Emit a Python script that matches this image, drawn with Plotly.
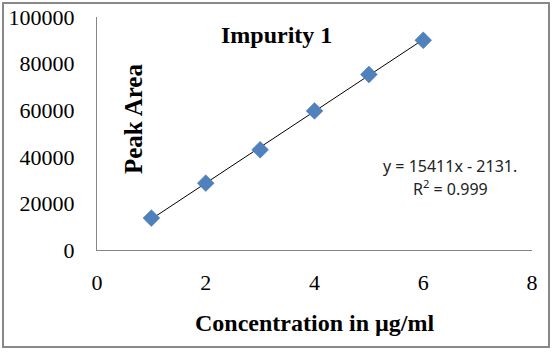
import numpy as np
import plotly.graph_objects as go

conc = [1, 2, 3, 4, 5, 6]
area = [13700, 28700, 43000, 59700, 75300, 90000]
x_ticks = [0, 2, 4, 6, 8]
y_ticks = [0, 20000, 40000, 60000, 80000, 100000]
y_tick_labels = ["0", "20000", "40000", "60000", "80000", "100000"]
slope, intercept = 15411, -2131.0
r_squared = "0.999"

W, H = 553, 352
L, R, T, B = 97, 21, 17, 102
pw, ph = W - L - R, H - T - B

fit_x = [conc[0], conc[-1]]
fit_y = [slope * v + intercept for v in fit_x]

fig = go.Figure()
fig.add_trace(go.Scatter(x=fit_x, y=fit_y, mode="lines",
                         line=dict(color="black", width=1), hoverinfo="skip"))
fig.add_trace(go.Scatter(x=conc, y=area, mode="markers",
                         marker=dict(symbol="diamond", size=13, color="#4F81BD",
                                     line=dict(color="#4A7EBB", width=0.5))))

serif = "Liberation Serif"


def px(xp):
    return (xp - L) / pw


def py(yp):
    return 1 - (yp - T) / ph


eq_font = dict(family="Noto Sans", size=16, color="#222222")

fig.update_layout(
    width=W, height=H, margin=dict(l=L, r=R, t=T, b=B, autoexpand=False),
    paper_bgcolor="white", plot_bgcolor="white", showlegend=False,
    xaxis=dict(range=[0, 8], tickvals=x_ticks, showgrid=False, zeroline=False,
               showline=True, linecolor="#868686", linewidth=1,
               ticks="", ticklabelstandoff=13, automargin=False,
               tickfont=dict(family=serif, size=22, color="black")),
    yaxis=dict(range=[0, 100000], tickvals=y_ticks, ticktext=y_tick_labels,
               showgrid=False, zeroline=False,
               showline=True, linecolor="#868686", linewidth=1,
               ticks="", ticklabelstandoff=17, automargin=False,
               tickfont=dict(family=serif, size=22, color="black")),
    annotations=[
        dict(text="<b>Impurity 1</b>", xref="paper", yref="paper",
             x=px(276), y=py(35), xanchor="center", yanchor="middle", showarrow=False,
             font=dict(family=serif, size=24, color="black")),
        dict(text="<b>Peak Area</b>", xref="paper", yref="paper", textangle=-90,
             x=px(134), y=py(119), xanchor="center", yanchor="middle", showarrow=False,
             font=dict(family=serif, size=25, color="black")),
        dict(text="<b>Concentration in µg/ml</b>", xref="paper", yref="paper",
             x=px(314), y=py(323), xanchor="center", yanchor="middle", showarrow=False,
             font=dict(family=serif, size=24, color="black")),
        dict(text=f"y = {slope}x - {abs(intercept):.0f}.",
             xref="paper", yref="paper",
             x=px(450), y=py(166), xanchor="center", yanchor="middle",
             showarrow=False, font=eq_font),
        dict(text=f"R<sup>2</sup> = {r_squared}",
             xref="paper", yref="paper",
             x=px(450), y=py(188), xanchor="center", yanchor="middle",
             showarrow=False, font=eq_font),
    ],
    shapes=[dict(type="rect", xref="paper", yref="paper", layer="below",
                 x0=px(3), x1=px(549), y0=py(347), y1=py(3),
                 line=dict(color="#888888", width=2))],
)
fig.write_html("out.html")
